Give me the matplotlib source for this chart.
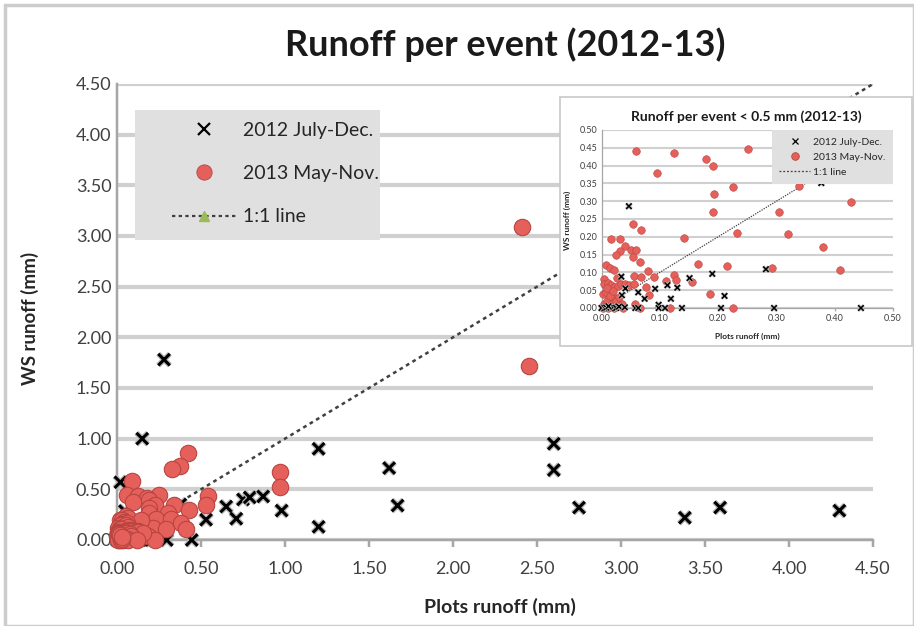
import matplotlib
matplotlib.use("Agg")
import matplotlib.pyplot as plt
import matplotlib.patheffects as pe
from matplotlib.patches import Rectangle
from matplotlib.lines import Line2D
import numpy as np

plt.rcParams['font.family'] = ['Lato', 'DejaVu Sans']

# 2012 July-Dec. events (plots runoff, WS runoff), mm
july_dec_x = [0.28, 0.15, 0.02, 0.53, 0.65, 0.71, 0.75, 0.79, 0.87, 0.98,
              1.20, 1.20, 1.62, 1.67, 2.60, 2.60, 2.75, 3.38, 3.59, 4.30,
              0.047, 0.377, 0.282, 0.190, 0.151, 0.034, 0.035, 0.041, 0.063,
              0.074, 0.092, 0.113, 0.130, 0.119, 0.211, 0.098, 0.098, 0.109,
              0.138, 0.058, 0.063, 0.205, 0.296, 0.445,
              0.0, 0.005, 0.010, 0.015, 0.020, 0.008, 0.025, 0.030, 0.012, 0.040]
july_dec_y = [1.78, 1.00, 0.57, 0.20, 0.33, 0.21, 0.40, 0.42, 0.43, 0.29,
              0.90, 0.13, 0.71, 0.34, 0.95, 0.69, 0.32, 0.22, 0.32, 0.29,
              0.286, 0.351, 0.109, 0.096, 0.084, 0.088, 0.036, 0.055, 0.044,
              0.026, 0.054, 0.064, 0.057, 0.026, 0.034, 0.009, 0.0, 0.0,
              0.0, 0.0, 0.0, 0.0, 0.0, 0.0,
              0.0, 0.0, 0.002, 0.0, 0.003, 0.001, 0.0, 0.004, 0.005, 0.002]

# 2013 May-Nov. events
may_nov_x = [2.41, 2.45, 0.42, 0.375, 0.33, 0.97, 0.97, 0.09, 0.54, 0.53,
             0.060, 0.124, 0.251, 0.180, 0.192, 0.095, 0.225, 0.193, 0.192,
             0.339, 0.428, 0.304, 0.233, 0.320, 0.380, 0.166, 0.216, 0.292,
             0.409, 0.186, 0.226,
             0.054, 0.067, 0.142, 0.017, 0.032, 0.040, 0.031, 0.050, 0.059,
             0.025, 0.054, 0.066, 0.007, 0.015, 0.021, 0.079, 0.004, 0.027,
             0.055, 0.067, 0.090, 0.124, 0.110, 0.127, 0.155, 0.004, 0.012,
             0.016, 0.021, 0.028, 0.034, 0.040, 0.047, 0.055, 0.077, 0.081,
             0.002, 0.036, 0.057, 0.037, 0.066, 0.118,
             0.005, 0.010, 0.015, 0.020, 0.008, 0.012, 0.018, 0.025, 0.003,
             0.022, 0.028, 0.015, 0.010, 0.020, 0.030]
may_nov_y = [3.09, 1.72, 0.86, 0.73, 0.70, 0.67, 0.52, 0.58, 0.43, 0.35,
             0.440, 0.434, 0.447, 0.418, 0.398, 0.379, 0.341, 0.319, 0.270,
             0.343, 0.297, 0.270, 0.210, 0.207, 0.171, 0.124, 0.117, 0.111,
             0.106, 0.038, 0.0,
             0.236, 0.220, 0.198, 0.195, 0.195, 0.174, 0.161, 0.162, 0.164,
             0.148, 0.144, 0.130, 0.122, 0.111, 0.107, 0.103, 0.082, 0.083,
             0.090, 0.088, 0.086, 0.093, 0.076, 0.079, 0.073, 0.068, 0.070,
             0.065, 0.060, 0.063, 0.068, 0.068, 0.065, 0.068, 0.059, 0.037,
             0.038, 0.011, 0.012, 0.0, 0.0, 0.0,
             0.010, 0.020, 0.005, 0.030, 0.045, 0.0, 0.012, 0.020, 0.0,
             0.0, 0.005, 0.035, 0.055, 0.048, 0.030]

line_x = [0, 4.5]
line_y = [0, 4.5]

main_ticks = [0.0, 0.5, 1.0, 1.5, 2.0, 2.5, 3.0, 3.5, 4.0, 4.5]
inset_xticks = [0.0, 0.1, 0.2, 0.3, 0.4, 0.5]
inset_yticks = [0.0, 0.05, 0.10, 0.15, 0.20, 0.25, 0.30, 0.35, 0.40, 0.45, 0.50]

RED = '#e5605a'
RED_EDGE = '#b94440'
GREEN = '#9bbb59'
GRID = '#d0d0d0'
SPINE = '#a6a6a6'
TXT = '#404040'

W, H = 914, 626
fig = plt.figure(figsize=(W / 100, H / 100), dpi=100)
fig.patches.append(Rectangle((5 / W, 0), 1 - 5 / W, 1 - 5 / H, transform=fig.transFigure,
                             fill=False, edgecolor='#cccccc', lw=2.5))


def px(l, t, r, b):
    return [l / W, 1 - b / H, (r - l) / W, (b - t) / H]


def style(ax, fs, gw, tl, ypad, xpad):
    ax.set_facecolor('none')
    for s in ['top', 'right']:
        ax.spines[s].set_visible(False)
    for s in ['left', 'bottom']:
        ax.spines[s].set_color(SPINE)
        ax.spines[s].set_linewidth(gw * 0.6)
    ax.yaxis.grid(True, color=GRID, lw=gw)
    ax.set_axisbelow(True)
    ax.tick_params(axis='y', length=0, labelsize=fs, labelcolor=TXT, pad=ypad)
    ax.tick_params(axis='x', length=tl, width=gw * 0.6, color=SPINE, labelsize=fs,
                   labelcolor=TXT, direction='out', pad=xpad)
    ax.xaxis.set_major_formatter('{x:.2f}')
    ax.yaxis.set_major_formatter('{x:.2f}')


def legend_handles(ms_x, ms_o, ms_tri, lw, tri=True):
    return [Line2D([], [], ls='none', marker='x', color='black', ms=ms_x, mew=lw),
            Line2D([], [], ls='none', marker='o', mfc=RED, mec=RED_EDGE, ms=ms_o, mew=0.6),
            Line2D([], [], ls=(0, (1.5, 1.5)), color='#404040', lw=lw,
                   marker='^' if tri else None, mfc=GREEN, mec=GREEN, ms=ms_tri)]


labels = ['2012 July-Dec.', '2013 May-Nov.', '1:1 line']

# main chart
ax = fig.add_axes(px(117, 84, 873, 540))
style(ax, 13, 3, 5, 4, 10)
ax.set_xlim(0, 4.5)
ax.set_ylim(0, 4.5)
ax.set_xticks(main_ticks)
ax.set_yticks(main_ticks)
ax.plot(line_x, line_y, ls=(0, (1.5, 1.5)), color='#404040', lw=1.8,
        marker='^', markevery=[0], mfc=GREEN, mec=GREEN, ms=6, zorder=2)
ax.scatter(july_dec_x, july_dec_y, s=70, marker='x', c='black', linewidths=2.2,
           zorder=3, clip_on=False,
           path_effects=[pe.withStroke(linewidth=4, foreground='#b8b8b8')])
ax.scatter(may_nov_x, may_nov_y, s=140, c=RED, edgecolors=RED_EDGE, linewidths=0.8,
           zorder=4, clip_on=False)

# legend sits on its own grey panel
ax.add_artist(Rectangle((135 / W, 1 - 240 / H), 245 / W, 130 / H,
                        transform=fig.transFigure, facecolor='#e0e0e0',
                        edgecolor='none', zorder=5, clip_on=False))
leg = ax.legend(legend_handles(8, 11, 7, 1.6), labels, loc='upper left',
                bbox_to_anchor=(172 / W, 1 - 122 / H), bbox_transform=fig.transFigure,
                fontsize=14, frameon=False, handlelength=3.3, borderpad=0,
                labelspacing=1.35, handletextpad=0.35, borderaxespad=0)
leg.set_zorder(6)
for t in leg.get_texts():
    t.set_color('#262626')

fig.text(505 / W, 1 - 45 / H, 'Runoff per event (2012-13)', ha='center', va='center',
         fontsize=26, fontweight='bold', color='#1a1a1a')
fig.text(30 / W, 1 - 318 / H, 'WS runoff (mm)', rotation=90, ha='center', va='center',
         fontsize=13.5, fontweight='bold', color='#262626')
fig.text(500 / W, 1 - 607 / H, 'Plots runoff (mm)', ha='center', va='center',
         fontsize=14, fontweight='bold', color='#262626')

# inset: events below 0.5 mm
fig.patches.append(Rectangle((560 / W, 1 - 346 / H), 352 / W, 249 / H,
                             transform=fig.transFigure, facecolor='white',
                             edgecolor='#c8c8c8', lw=1.2, zorder=5))
sx = np.array(july_dec_x)
sy = np.array(july_dec_y)
rx = np.array(may_nov_x)
ry = np.array(may_nov_y)
ms = (sx <= 0.5) & (sy <= 0.5)
mr = (rx <= 0.5) & (ry <= 0.5)

ins = fig.add_axes(px(601.5, 130, 893, 308), zorder=6)
style(ins, 6.5, 1.5, 2.5, 3, 2)
ins.set_xlim(0, 0.5)
ins.set_ylim(0, 0.5)
ins.set_xticks(inset_xticks)
ins.set_yticks(inset_yticks)
ins.plot(line_x, line_y, ls=(0, (1, 1)), color='#404040', lw=0.9, zorder=2)
ins.scatter(rx[mr], ry[mr], s=30, c=RED, edgecolors=RED_EDGE, linewidths=0.4,
            zorder=3, clip_on=False)
ins.scatter(sx[ms], sy[ms], s=16, marker='x', c='black', linewidths=1.1,
            zorder=4, clip_on=False,
            path_effects=[pe.withStroke(linewidth=2.2, foreground='#bcbcbc')])
leg2 = ins.legend(legend_handles(4, 5.5, 0, 0.9, tri=False), labels, loc='upper right',
                  bbox_to_anchor=(1.0, 1.0), fontsize=7.5, frameon=True, fancybox=False,
                  facecolor='#e0e0e0', edgecolor='none', framealpha=1, handlelength=3.0,
                  borderpad=0.7, labelspacing=0.55, handletextpad=0.3, borderaxespad=0)
for t in leg2.get_texts():
    t.set_color('#262626')

fig.text(746 / W, 1 - 117 / H, 'Runoff per event < 0.5 mm (2012-13)', ha='center',
         va='center', fontsize=10, fontweight='bold', color='#1a1a1a', zorder=7)
fig.text(567 / W, 1 - 220 / H, 'WS runoff (mm)', rotation=90, ha='center', va='center',
         fontsize=6, fontweight='bold', color='#262626', zorder=7)
fig.text(747 / W, 1 - 336 / H, 'Plots runoff (mm)', ha='center', va='center',
         fontsize=6, fontweight='bold', color='#262626', zorder=7)

fig.savefig('out.png', dpi=100)
